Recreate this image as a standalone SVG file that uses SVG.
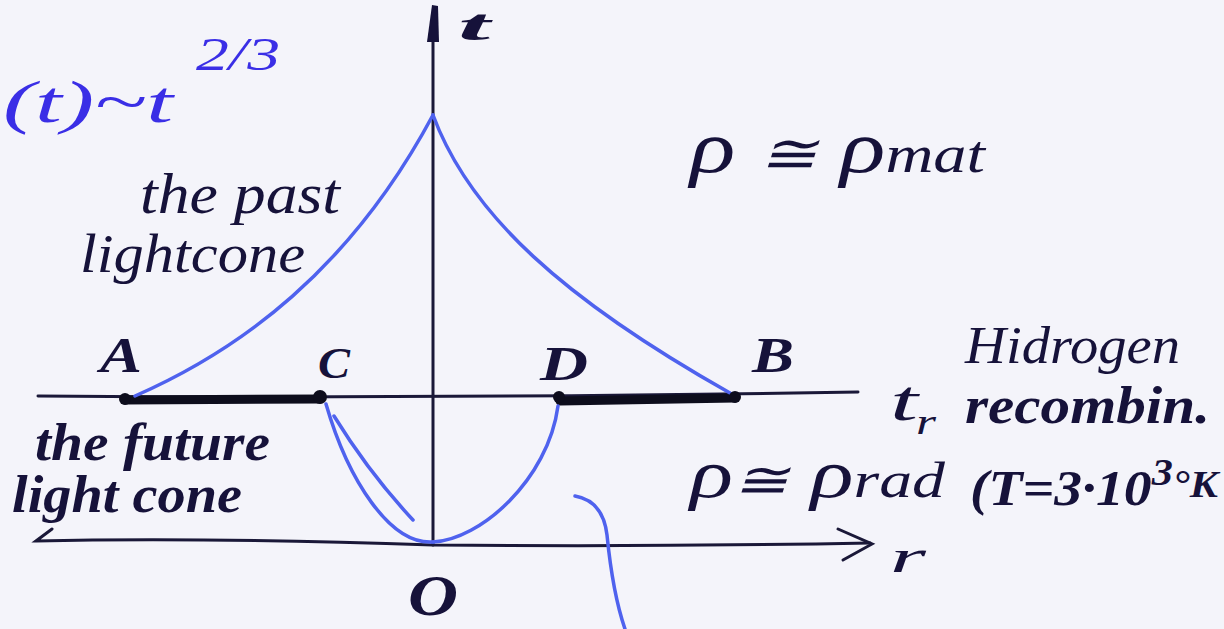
<svg xmlns="http://www.w3.org/2000/svg" width="1224" height="629" viewBox="0 0 1224 629">
<style>
.ink{fill:#16123a;font-family:"Liberation Serif",serif;font-style:italic}
.blt{fill:#3a2ee6;font-family:"Liberation Serif",serif;font-style:italic}
.ax{fill:none;stroke:#1a1838;stroke-width:3;stroke-linecap:round}
.cone{fill:none;stroke:#4f62ee;stroke-width:3.5;stroke-linecap:round}
.seg{fill:none;stroke:#0d0d1c;stroke-width:9;stroke-linecap:round}
.dot{fill:#0d0d1c}
</style>
<rect width="1224" height="629" fill="#f4f4fa"/>
<g id="connectors">
  <path class="ax" d="M52,529 L36,541 Q200,537 433,545 Q650,547 870,543"/>
  <path class="ax" d="M838,529 L872,544 L843,560"/>
  <path class="ax" d="M433,545 L433,40"/>
  <polygon points="427,42 439,42 438,6 432,5" fill="#16123a"/>
  <path class="ax" stroke-width="2.5" d="M38,396 Q430,399 858,392"/>
  <path class="seg" d="M125,400 L320,399"/>
  <path class="seg" d="M560,401 L735,398"/>
  <path class="cone" d="M135,396 C240,350 350,270 433,115"/>
  <path class="cone" d="M433,115 C470,215 565,300 730,393"/>
  <path class="cone" d="M326,404 C348,480 390,545 433,542"/>
  <path class="cone" d="M334,416 C355,450 385,490 413,520"/>
  <path class="cone" d="M558,406 C548,480 480,540 433,542"/>
  <path class="cone" d="M575,496 C598,500 605,518 607,535 C610,565 615,600 625,629"/>
</g>
<g id="node-A"><circle class="dot" cx="125" cy="399" r="6"/><text class="ink" x="100" y="372" font-size="50" font-weight="bold" textLength="42" lengthAdjust="spacingAndGlyphs">A</text></g>
<g id="node-C"><circle class="dot" cx="320" cy="397" r="7"/><text class="ink" x="318" y="378" font-size="44" font-weight="bold" textLength="32" lengthAdjust="spacingAndGlyphs">C</text></g>
<g id="node-D"><circle class="dot" cx="559" cy="397" r="6"/><text class="ink" x="540" y="380" font-size="48" font-weight="bold" textLength="48" lengthAdjust="spacingAndGlyphs">D</text></g>
<g id="node-B"><circle class="dot" cx="735" cy="397" r="6"/><text class="ink" x="752" y="372" font-size="50" font-weight="bold" textLength="42" lengthAdjust="spacingAndGlyphs">B</text></g>
<g id="node-O"><text class="ink" x="408" y="615" font-size="58" font-weight="bold" textLength="50" lengthAdjust="spacingAndGlyphs">O</text></g>
<g id="label-t"><text class="ink" x="458" y="40" font-size="44" font-weight="bold" textLength="32" lengthAdjust="spacingAndGlyphs">t</text></g>
<g id="label-r"><text class="ink" x="890" y="572" font-size="46" textLength="36" lengthAdjust="spacingAndGlyphs">r</text></g>
<g id="label-scale">
  <text class="blt" x="3" y="122" font-size="60" textLength="170" lengthAdjust="spacingAndGlyphs">(t)~t</text>
  <text class="blt" x="196" y="70" font-size="46" textLength="84" lengthAdjust="spacingAndGlyphs">2/3</text>
</g>
<g id="label-past">
  <text class="ink" x="140" y="213" font-size="58" textLength="200" lengthAdjust="spacingAndGlyphs">the past</text>
  <text class="ink" x="80" y="272" font-size="54" textLength="225" lengthAdjust="spacingAndGlyphs">lightcone</text>
</g>
<g id="label-future">
  <text class="ink" x="35" y="460" font-size="52" font-weight="bold" textLength="235" lengthAdjust="spacingAndGlyphs">the future</text>
  <text class="ink" x="12" y="512" font-size="52" font-weight="bold" textLength="230" lengthAdjust="spacingAndGlyphs">light cone</text>
</g>
<g id="label-mat"><text class="ink" x="690" y="172" font-size="74" textLength="295" lengthAdjust="spacingAndGlyphs">ρ <tspan font-size="54">≅</tspan> ρ<tspan font-size="52">mat</tspan></text></g>
<g id="label-rad"><text class="ink" x="690" y="497" font-size="68" textLength="255" lengthAdjust="spacingAndGlyphs">ρ<tspan font-size="50">≅</tspan> ρ<tspan font-size="50">rad</tspan></text></g>
<g id="label-tr"><text class="ink" x="890" y="420" font-size="58" textLength="28" lengthAdjust="spacingAndGlyphs">t</text><text class="ink" x="916" y="434" font-size="36" textLength="20" lengthAdjust="spacingAndGlyphs">r</text></g>
<g id="label-recomb">
  <text class="ink" x="965" y="363" font-size="52" textLength="215" lengthAdjust="spacingAndGlyphs">Hidrogen</text>
  <text class="ink" x="965" y="423" font-size="52" font-weight="bold" textLength="245" lengthAdjust="spacingAndGlyphs">recombin.</text>
  <text class="ink" x="970" y="505" font-size="50" font-weight="bold" textLength="248" lengthAdjust="spacingAndGlyphs">(T=3·10<tspan font-size="38" dy="-20">3</tspan><tspan font-size="38" dy="12">°K</tspan></text>
</g>
</svg>
